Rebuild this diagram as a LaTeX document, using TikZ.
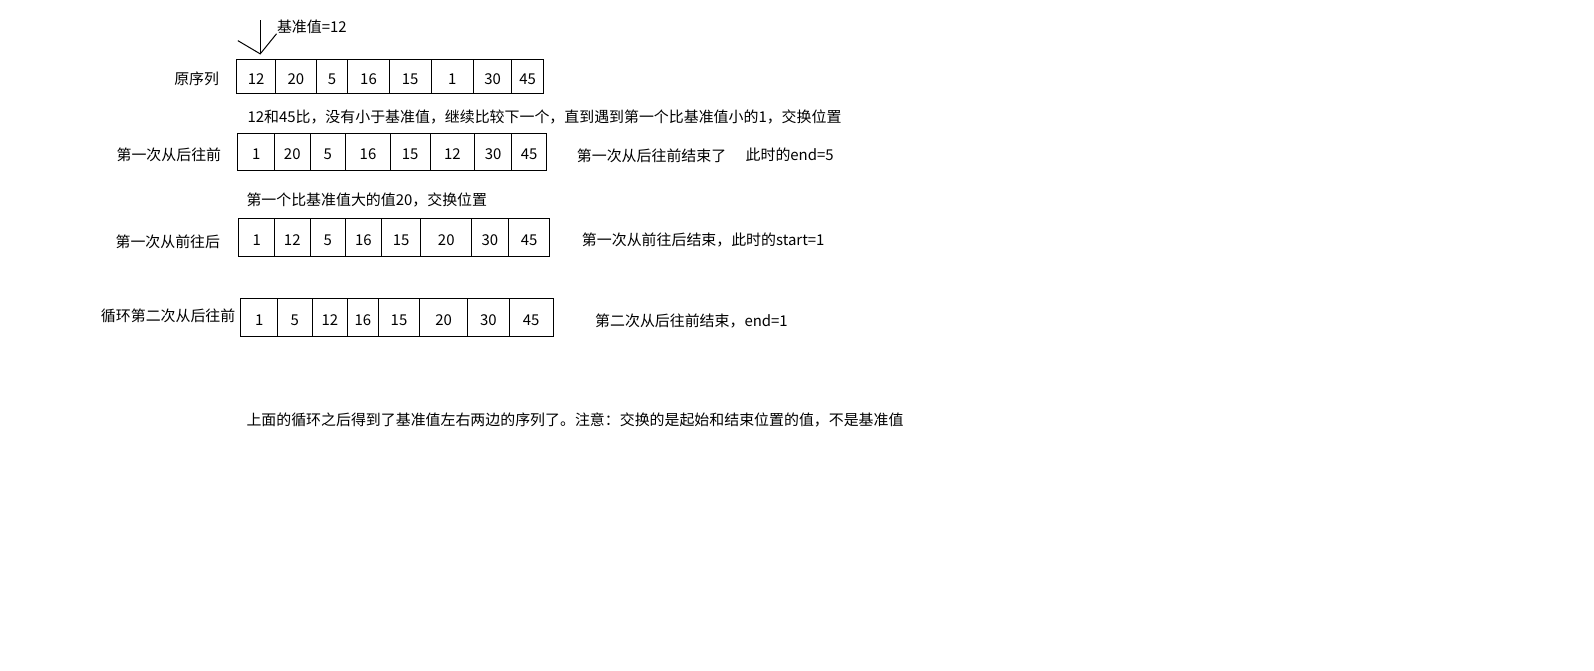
\documentclass[tikz,border=0pt]{standalone}
\usepackage{fontspec}
\setmainfont{Noto Sans CJK SC}
\usepackage{tikz}
\usetikzlibrary{positioning}

\tikzset{
  cell/.style = {draw, line width=0.75pt, inner sep=0pt, text height=12pt, text depth=0pt, minimum height=#1*0.7625pt},
  cell/.default = 35,
  cw/.style = {minimum width=#1*0.7625pt},
  note/.style = {anchor=west, inner sep=0pt},
  rowlabel/.style = {anchor=east, inner sep=0pt}
}

\begin{document}
\begin{tikzpicture}[x=0.7625pt, y=-0.7625pt, font=\fontsize{11.2}{13}\selectfont, line width=0.75pt]
\useasboundingbox[fill=white] (0,0) rectangle (1568,660);

\node[note] (pivot) at (272,26) {基准值=12};
\coordinate (atop) at (256,20);
\coordinate (tip) at (256,53);
\coordinate (aleft) at (234,40);
\draw (atop) -- (tip);
\draw (aleft) -- (tip) -- (pivot.south west);

\node[rowlabel] (l0) at (216,78) {原序列};
\node[cell=33, cw=38] (a1) at (252,75.5) {12};
\node[cell=33, cw=40] (a2) at (291,75.5) {20};
\node[cell=33, cw=31] (a3) at (326.5,75.5) {5};
\node[cell=33, cw=41] (a4) at (362.5,75.5) {16};
\node[cell=33, cw=41] (a5) at (403.5,75.5) {15};
\node[cell=33, cw=42] (a6) at (445,75.5) {1};
\node[cell=33, cw=37] (a7) at (484.5,75.5) {30};
\node[cell=33, cw=32] (a8) at (519,75.5) {45};

\node[note] (t1) at (243,115) {12和45比，没有小于基准值，继续比较下一个，直到遇到第一个比基准值小的1，交换位置};

\node[rowlabel] (l1) at (218,152) {第一次从后往前};
\node[cell=37, cw=36] (b1) at (252,149.5) {1};
\node[cell=37, cw=35] (b2) at (287.5,149.5) {20};
\node[cell=37, cw=35] (b3) at (322.5,149.5) {5};
\node[cell=37, cw=44] (b4) at (362,149.5) {16};
\node[cell=37, cw=39] (b5) at (403.5,149.5) {15};
\node[cell=37, cw=44] (b6) at (445,149.5) {12};
\node[cell=37, cw=36] (b7) at (485,149.5) {30};
\node[cell=37, cw=35] (b8) at (520.5,149.5) {45};
\node[note] (r1) at (567,153) {第一次从后往前结束了};
\node[note] (e1) at (733,152) {此时的end=5};

\node[note] (t2) at (242,197) {第一个比基准值大的值20，交换位置};

\node[rowlabel] (l2) at (217,238) {第一次从前往后};
\node[cell=37, cw=35] (c1) at (252.5,233.5) {1};
\node[cell=37, cw=35] (c2) at (287.5,233.5) {12};
\node[cell=37, cw=35] (c3) at (322.5,233.5) {5};
\node[cell=37, cw=35] (c4) at (357.5,233.5) {16};
\node[cell=37, cw=39] (c5) at (394.5,233.5) {15};
\node[cell=37, cw=50] (c6) at (439,233.5) {20};
\node[cell=37, cw=36] (c7) at (482,233.5) {30};
\node[cell=37, cw=41] (c8) at (520.5,233.5) {45};
\node[note] (r2) at (572,236) {第一次从前往后结束，此时的start=1};

\node[rowlabel] (l3) at (232,311) {循环第二次从后往前};
\node[cell=37, cw=36] (d1) at (255,312.5) {1};
\node[cell=37, cw=34] (d2) at (290,312.5) {5};
\node[cell=37, cw=35] (d3) at (324.5,312.5) {12};
\node[cell=37, cw=30] (d4) at (357,312.5) {16};
\node[cell=37, cw=41] (d5) at (392.5,312.5) {15};
\node[cell=37, cw=47] (d6) at (436.5,312.5) {20};
\node[cell=37, cw=41] (d7) at (480.5,312.5) {30};
\node[cell=37, cw=43] (d8) at (522.5,312.5) {45};
\node[note] (r3) at (585,316) {第二次从后往前结束，end=1};

\node[note] (t3) at (242,413) {上面的循环之后得到了基准值左右两边的序列了。注意：交换的是起始和结束位置的值，不是基准值};

\end{tikzpicture}
\end{document}
